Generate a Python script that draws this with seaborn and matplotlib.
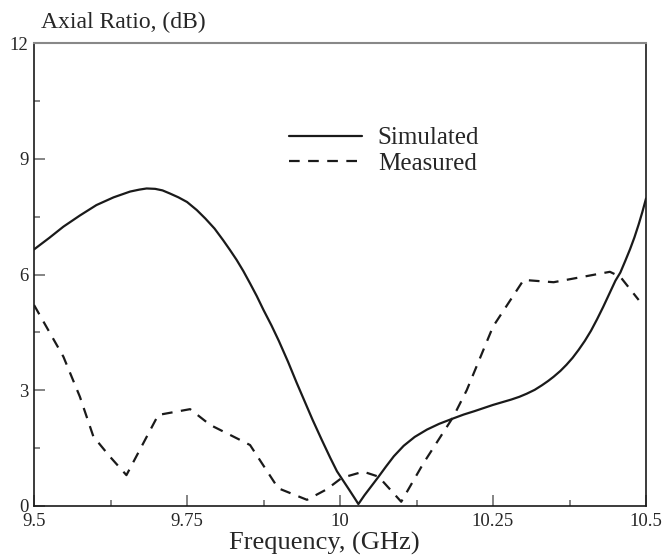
import matplotlib
matplotlib.use("Agg")
import matplotlib.pyplot as plt
import seaborn as sns
import pandas as pd
from matplotlib.ticker import MultipleLocator, FixedLocator, FixedFormatter

# simulated axial ratio
sim_freq = [9.500, 9.525, 9.548, 9.575, 9.602, 9.630, 9.657, 9.672, 9.684, 9.698,
            9.710, 9.722, 9.736, 9.750, 9.766, 9.780, 9.795, 9.809, 9.820, 9.831,
            9.842, 9.853, 9.864, 9.875, 9.888, 9.900, 9.915, 9.929, 9.942, 9.955,
            9.970, 9.984, 9.995, 10.005, 10.015, 10.024, 10.030, 10.040, 10.052, 10.063,
            10.075, 10.088, 10.104, 10.122, 10.142, 10.162, 10.185, 10.202, 10.220, 10.235,
            10.250, 10.265, 10.280, 10.293, 10.305, 10.318, 10.330, 10.340, 10.349, 10.360,
            10.370, 10.380, 10.390, 10.400, 10.410, 10.420, 10.430, 10.440, 10.450, 10.458,
            10.466, 10.474, 10.481, 10.488, 10.494, 10.500]
sim_ar = [6.65, 6.95, 7.24, 7.53, 7.80, 8.00, 8.15, 8.20, 8.23, 8.22,
          8.18, 8.10, 8.00, 7.88, 7.67, 7.45, 7.19, 6.89, 6.64, 6.38,
          6.09, 5.77, 5.44, 5.08, 4.68, 4.28, 3.74, 3.20, 2.72, 2.24,
          1.72, 1.25, 0.90, 0.66, 0.42, 0.20, 0.05, 0.28, 0.53, 0.76,
          1.02, 1.29, 1.56, 1.79, 1.98, 2.13, 2.27, 2.37, 2.46, 2.54,
          2.62, 2.69, 2.76, 2.83, 2.91, 3.01, 3.13, 3.24, 3.35, 3.50,
          3.66, 3.84, 4.05, 4.28, 4.54, 4.84, 5.16, 5.50, 5.84, 6.05,
          6.35, 6.66, 6.96, 7.30, 7.62, 7.97]

# measured axial ratio
meas_freq = [9.500, 9.548, 9.575, 9.597, 9.624, 9.651, 9.703, 9.755, 9.788, 9.837,
             9.853, 9.899, 9.946, 9.978, 10.003, 10.038, 10.063, 10.100, 10.136, 10.185,
             10.207, 10.250, 10.300, 10.349, 10.441, 10.458, 10.488]
meas_ar = [5.21, 3.87, 2.83, 1.80, 1.28, 0.80, 2.36, 2.51, 2.10, 1.71,
           1.58, 0.46, 0.16, 0.43, 0.73, 0.89, 0.76, 0.11, 1.10, 2.31,
           3.00, 4.65, 5.86, 5.80, 6.07, 5.94, 5.34]

x_ticks = [9.5, 9.75, 10.0, 10.25, 10.5]
x_labels = ["9.5", "9.75", "10", "10.25", "10.5"]
y_ticks = [0, 3, 6, 9, 12]

sns.set_style("ticks")
plt.rcParams["font.family"] = ["Liberation Serif", "DejaVu Serif"]

sim = pd.DataFrame({"f": sim_freq, "ar": sim_ar})
meas = pd.DataFrame({"f": meas_freq, "ar": meas_ar})

fig = plt.figure(figsize=(6.63, 5.58), dpi=100)
ax = fig.add_axes([0.0513, 0.0932, 0.9231, 0.8297])

ink = "#1a1a1a"
sns.lineplot(data=sim, x="f", y="ar", ax=ax, color=ink, lw=1.6,
             label="Simulated", sort=False)
sns.lineplot(data=meas, x="f", y="ar", ax=ax, color=ink, lw=1.6,
             label="Measured", sort=False)
ax.lines[1].set_dashes((4.8, 3.8))

ax.set_xlim(9.5, 10.5)
ax.set_ylim(0, 12)
ax.xaxis.set_major_locator(FixedLocator(x_ticks))
ax.xaxis.set_major_formatter(FixedFormatter(x_labels))
ax.xaxis.set_minor_locator(MultipleLocator(0.125))
ax.yaxis.set_major_locator(FixedLocator(y_ticks))
ax.yaxis.set_minor_locator(MultipleLocator(1.5))

ax.tick_params(which="both", direction="in", color="#707070", labelsize=13.5,
               top=False, right=False)
ax.tick_params(which="major", length=8, width=1.2)
ax.tick_params(which="minor", length=4, width=1.2)
ax.tick_params(axis="x", pad=5)
ax.tick_params(axis="y", pad=4)

for side in ["left", "bottom", "right"]:
    ax.spines[side].set_color(ink)
    ax.spines[side].set_linewidth(1.2)
ax.spines["top"].set_color("#888888")
ax.spines["top"].set_linewidth(1.5)

ax.set_xlabel("Frequency, (GHz)", fontsize=19)
ax.xaxis.set_label_coords(0.475, -0.08)
ax.xaxis.label.set_va("center")
ax.set_ylabel("Axial Ratio, (dB)", fontsize=17, rotation=0, ha="left", va="center")
ax.yaxis.set_label_coords(0.0114, 1.045)

leg = ax.legend(loc="upper left", bbox_to_anchor=(0.417, 0.819), frameon=False,
                fontsize=18, handlelength=2.9, handletextpad=0.64, labelspacing=0.12,
                borderpad=0, borderaxespad=0)
leg.get_lines()[1].set_dashes((4.8, 3.8))

fig.savefig("out.png", dpi=100)
